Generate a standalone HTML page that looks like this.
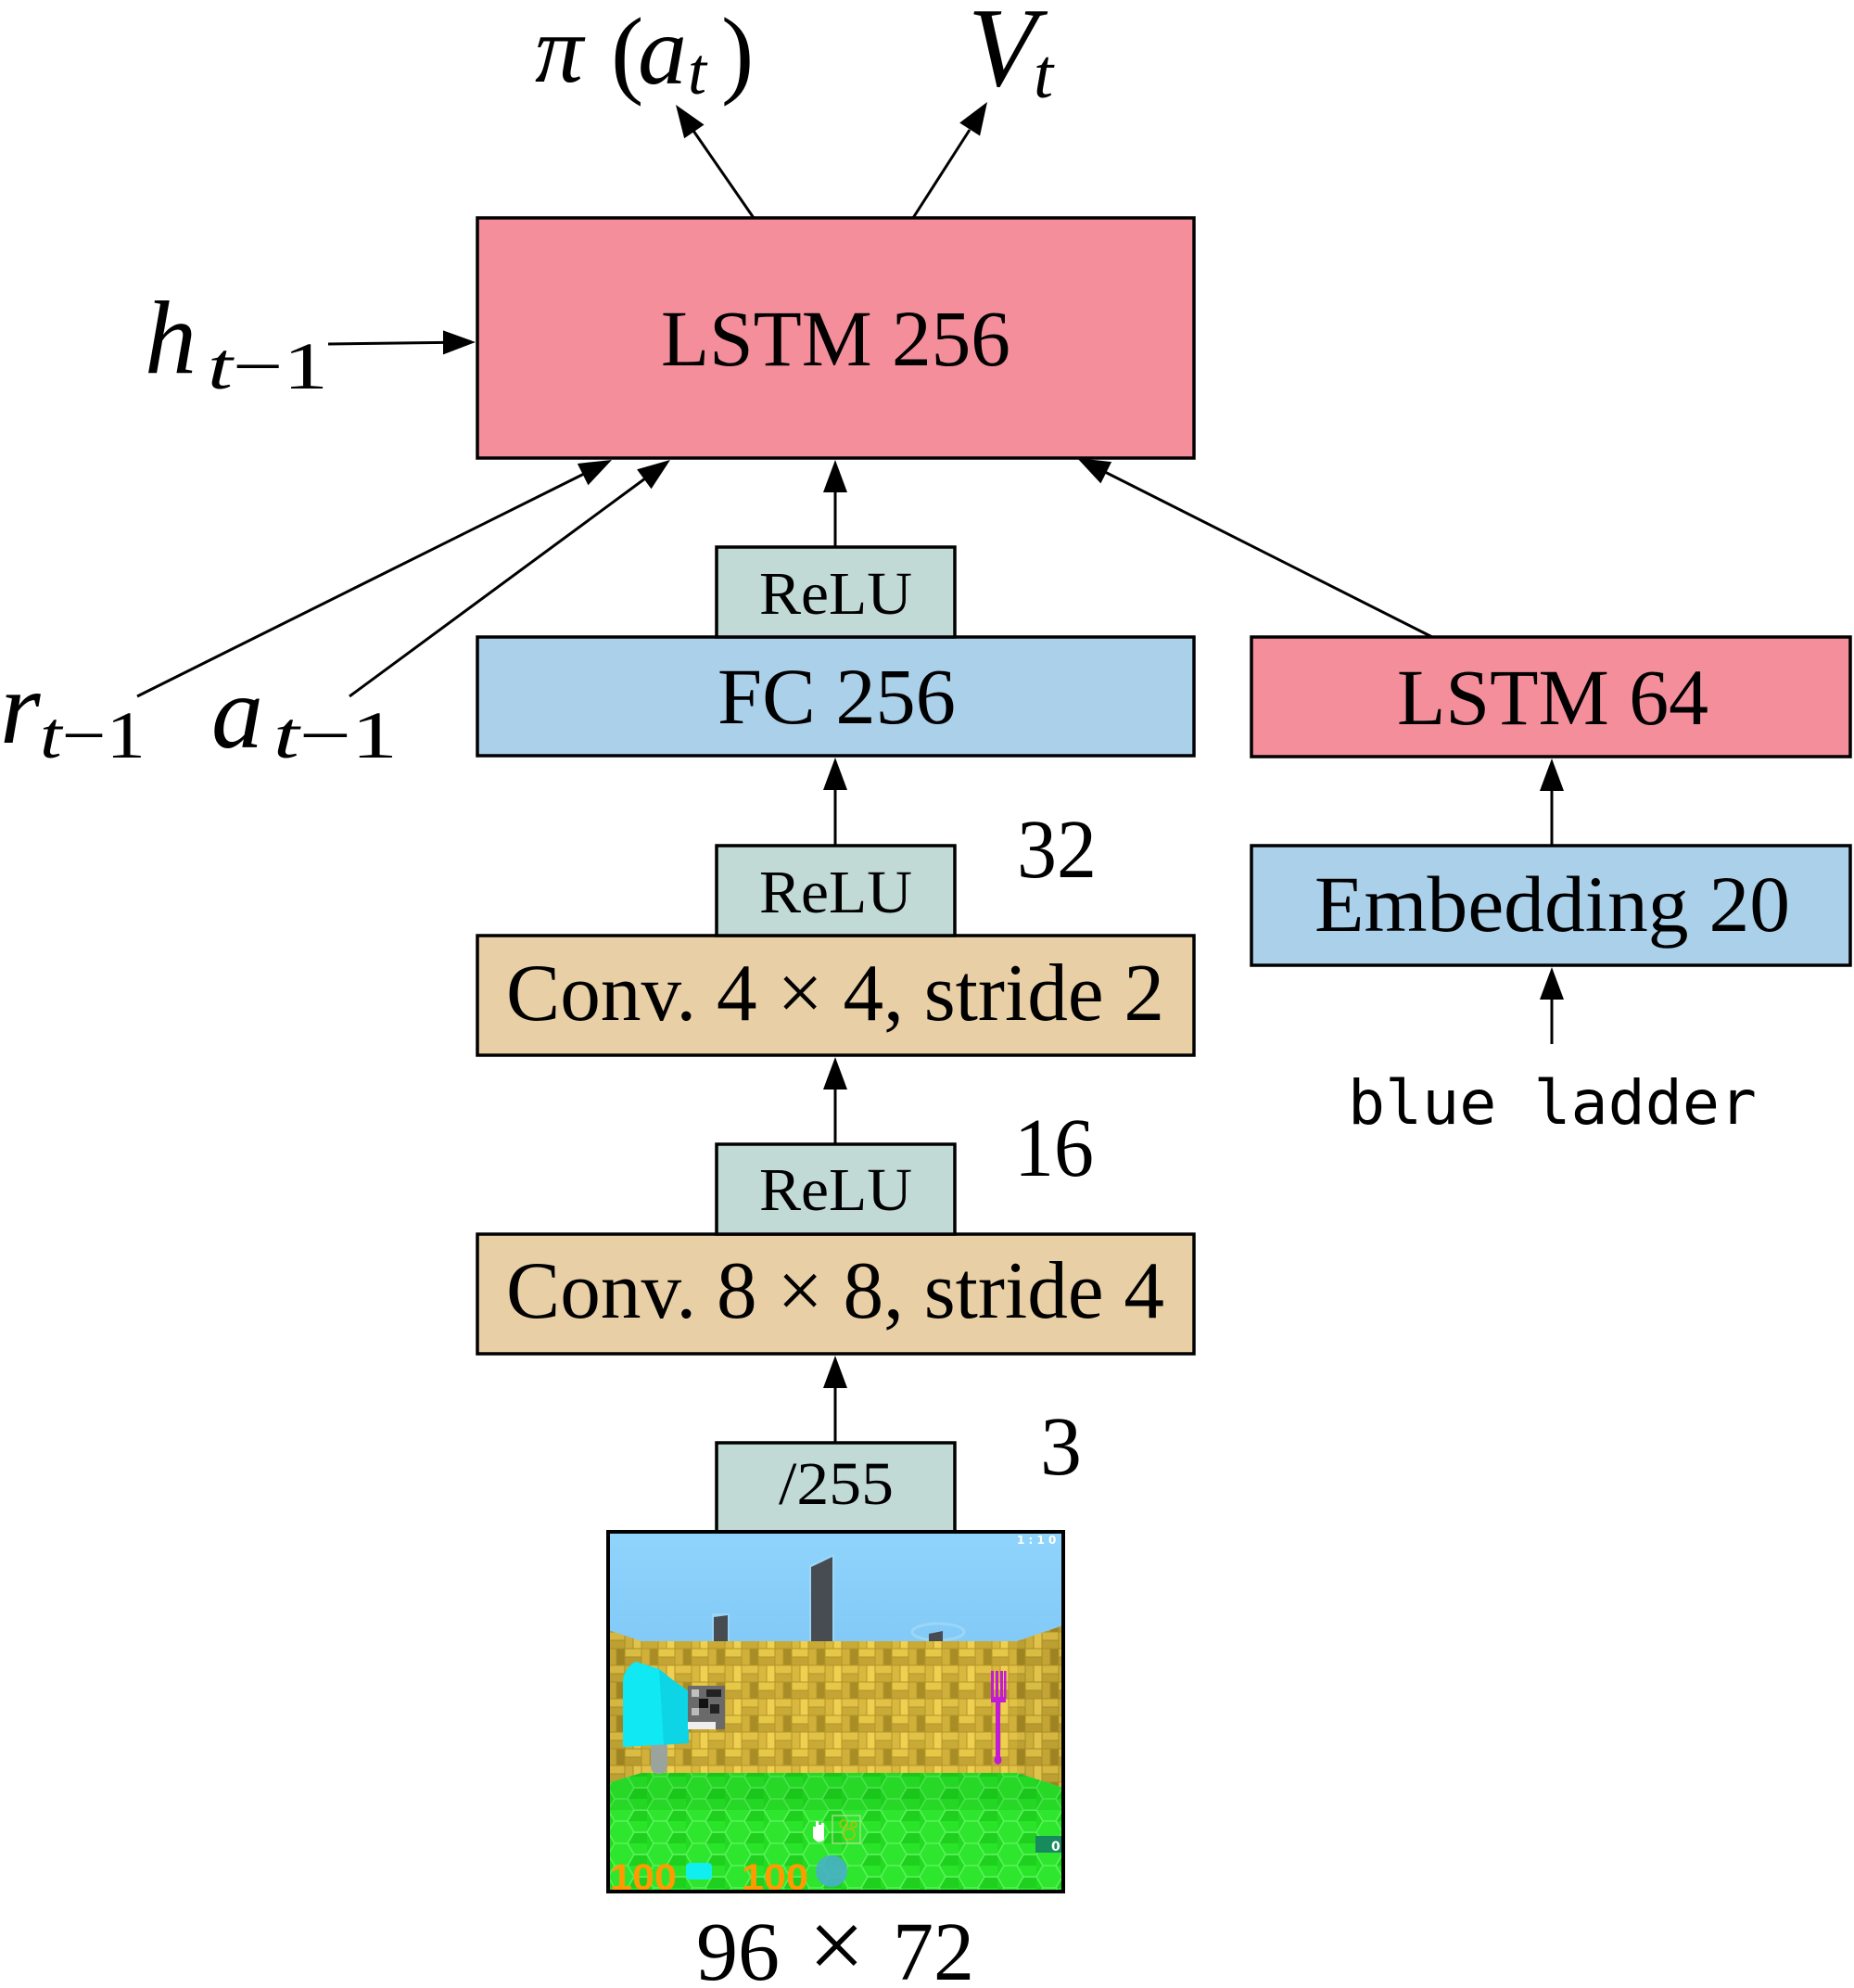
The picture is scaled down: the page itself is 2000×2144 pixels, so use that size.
<!DOCTYPE html>
<html>
<head>
<meta charset="utf-8">
<style>
html,body{margin:0;padding:0;background:#fff;width:2000px;height:2144px;overflow:hidden}
svg{display:block}
.s{font-family:"Liberation Serif","DejaVu Serif",serif;fill:#000}
.i{font-style:italic}
.m{font-family:"DejaVu Sans Mono","Liberation Mono",monospace;fill:#000}
</style>
</head>
<body>
<svg width="2000" height="2144" viewBox="0 0 2000 2144" xmlns="http://www.w3.org/2000/svg">
<defs>
  <linearGradient id="sky" x1="0" y1="0" x2="0" y2="1">
    <stop offset="0" stop-color="#8fd4fc"/>
    <stop offset="1" stop-color="#66b2ec"/>
  </linearGradient>
  <pattern id="brick" x="0" y="0" width="36" height="36" patternUnits="userSpaceOnUse">
    <rect width="36" height="36" fill="#b49628"/>
    <rect x="0.5" y="0.5" width="17" height="8" fill="#e2c246"/>
    <rect x="0.5" y="9.5" width="17" height="8" fill="#c9aa36"/>
    <rect x="18.5" y="0.5" width="8" height="17" fill="#d8b83e"/>
    <rect x="27.5" y="0.5" width="8" height="17" fill="#f0d050"/>
    <rect x="0.5" y="18.5" width="8" height="17" fill="#d0b03a"/>
    <rect x="9.5" y="18.5" width="8" height="17" fill="#a88c26"/>
    <rect x="18.5" y="18.5" width="17" height="8" fill="#e6c848"/>
    <rect x="18.5" y="27.5" width="17" height="8" fill="#c4a434"/>
  </pattern>
  <pattern id="hex" x="0" y="0" width="42" height="24" patternUnits="userSpaceOnUse">
    <rect width="42" height="24" fill="#22dc22"/>
    <polygon points="7,0 21,0 28,12 21,24 7,24 0,12" fill="#2ee62e" stroke="#5cf25c" stroke-width="1.5"/>
    <polygon points="28,12 42,12 49,24 42,36 28,36 21,24" fill="#1fd01f" stroke="#5cf25c" stroke-width="1.5"/>
    <polygon points="28,-12 42,-12 49,0 42,12 28,12 21,0" fill="#2ae42a" stroke="#5cf25c" stroke-width="1.5"/>
  </pattern>
  <clipPath id="imgclip"><rect x="0" y="0" width="491" height="388"/></clipPath>
</defs>

<!-- Boxes -->
<g stroke="#000" stroke-width="3.5">
  <rect x="515" y="235" width="773" height="259" fill="#f48e9b"/>
  <rect x="515" y="687" width="773" height="128" fill="#abd0ea"/>
  <rect x="515" y="1009" width="773" height="129" fill="#e8cfa5"/>
  <rect x="515" y="1331" width="773" height="129" fill="#e8cfa5"/>
  <rect x="773" y="590" width="257" height="97" fill="#c1dad6"/>
  <rect x="773" y="912" width="257" height="97" fill="#c1dad6"/>
  <rect x="773" y="1234" width="257" height="97" fill="#c1dad6"/>
  <rect x="773" y="1556" width="257" height="96" fill="#c1dad6"/>
  <rect x="1350" y="687" width="646" height="129" fill="#f48e9b"/>
  <rect x="1350" y="912" width="646" height="129" fill="#abd0ea"/>
</g>

<!-- Connectors -->
<g stroke="#000" stroke-width="3" fill="none">
  <line x1="901" y1="590" x2="901" y2="530"/>
  <line x1="901" y1="912" x2="901" y2="851"/>
  <line x1="901" y1="1234" x2="901" y2="1174"/>
  <line x1="901" y1="1556" x2="901" y2="1496"/>
  <line x1="1674" y1="912" x2="1674" y2="852"/>
  <line x1="1674" y1="1126" x2="1674" y2="1077"/>
  <line x1="354" y1="371" x2="479" y2="369.4"/>
  <line x1="148" y1="751" x2="630" y2="511"/>
  <line x1="377" y1="751" x2="696" y2="516"/>
  <line x1="813" y1="235" x2="748" y2="141"/>
  <line x1="985" y1="235" x2="1046" y2="140"/>
  <line x1="1545" y1="687" x2="1192" y2="509"/>
</g>
<g fill="#000">
  <polygon points="901,496 888,531 914,531"/>
  <polygon points="901,817 888,852 914,852"/>
  <polygon points="901,1140 888,1175 914,1175"/>
  <polygon points="901,1462 888,1497 914,1497"/>
  <polygon points="1674,818 1661,853 1687,853"/>
  <polygon points="1674,1043 1661,1078 1687,1078"/>
  <polygon points="513,369 478,356.4 478,382.4"/>
  <polygon points="660,496 634.47,523.24 622.87,499.96"/>
  <polygon points="723,496 702.53,527.23 687.11,506.31"/>
  <polygon points="729,113 759.56,134.46 738.14,149.20"/>
  <polygon points="1065,110 1057.08,146.49 1035.18,132.47"/>
  <polygon points="1162,494 1199.11,498.14 1187.41,521.36"/>
</g>

<!-- Box labels -->
<text class="s" x="713" y="394" font-size="86" textLength="377" lengthAdjust="spacingAndGlyphs">LSTM 256</text>
<text class="s" x="819" y="662" font-size="66" textLength="165" lengthAdjust="spacingAndGlyphs">ReLU</text>
<text class="s" x="774" y="780" font-size="86" textLength="257" lengthAdjust="spacingAndGlyphs">FC 256</text>
<text class="s" x="819" y="984" font-size="66" textLength="165" lengthAdjust="spacingAndGlyphs">ReLU</text>
<text class="s" x="546" y="1100" font-size="88" textLength="710" lengthAdjust="spacingAndGlyphs">Conv. 4 × 4, stride 2</text>
<text class="s" x="819" y="1305" font-size="66" textLength="165" lengthAdjust="spacingAndGlyphs">ReLU</text>
<text class="s" x="546" y="1421" font-size="88" textLength="710" lengthAdjust="spacingAndGlyphs">Conv. 8 × 8, stride 4</text>
<text class="s" x="840" y="1622" font-size="66" textLength="124" lengthAdjust="spacingAndGlyphs">/255</text>
<text class="s" x="1507" y="781" font-size="86" textLength="336" lengthAdjust="spacingAndGlyphs">LSTM 64</text>
<text class="s" x="1418" y="1004" font-size="86" textLength="513" lengthAdjust="spacingAndGlyphs">Embedding 20</text>
<text class="m" x="1454" y="1212" font-size="66" textLength="441" lengthAdjust="spacingAndGlyphs">blue ladder</text>

<!-- Channel counts -->
<text class="s" x="1097" y="946" font-size="90" textLength="86" lengthAdjust="spacingAndGlyphs">32</text>
<text class="s" x="1094" y="1268" font-size="90" textLength="86" lengthAdjust="spacingAndGlyphs">16</text>
<text class="s" x="1122" y="1590" font-size="90">3</text>

<!-- 96 x 72 -->
<text class="s" x="751" y="2135" font-size="90" textLength="90" lengthAdjust="spacingAndGlyphs">96</text>
<text class="s" x="872" y="2134" font-size="108">×</text>
<text class="s" x="963" y="2135" font-size="90" textLength="88" lengthAdjust="spacingAndGlyphs">72</text>

<!-- Math labels -->
<text class="s i" x="156" y="402" font-size="112">h</text>
<text class="s" x="224" y="419" font-size="72" textLength="130" lengthAdjust="spacingAndGlyphs"><tspan class="i">t</tspan>−1</text>

<text class="s i" x="0" y="801" font-size="112">r</text>
<text class="s" x="43" y="817" font-size="72" textLength="114" lengthAdjust="spacingAndGlyphs"><tspan class="i">t</tspan>−1</text>

<text class="s i" x="228" y="806" font-size="112">a</text>
<text class="s" x="295" y="817" font-size="72" textLength="134" lengthAdjust="spacingAndGlyphs"><tspan class="i">t</tspan>−1</text>

<text class="s i" x="577" y="88" font-size="104">π</text>
<text class="s" x="659" y="92" font-size="106">(</text>
<text class="s i" x="688" y="90" font-size="106">a</text>
<text class="s i" x="742" y="101" font-size="72">t</text>
<text class="s" x="778" y="92" font-size="106">)</text>

<text class="s i" x="1044" y="92" font-size="122">V</text>
<text class="s i" x="1115" y="105" font-size="76">t</text>

<!-- Game screenshot -->
<g transform="translate(656,1652)">
  <g clip-path="url(#imgclip)">
    <rect x="0" y="0" width="491" height="388" fill="url(#sky)"/>
    <!-- pillars -->
    <rect x="112" y="88" width="19" height="34" fill="#a8dcf8" opacity="0.6"/>
    <polygon points="114,92 129,90 129,120 114,120" fill="#474c52"/>
    <polygon points="217,36 244,24 244,120 217,120" fill="#a8dcf8" opacity="0.6"/>
    <polygon points="219,38 242,27 242,120 219,120" fill="#474c52"/>
    <ellipse cx="356" cy="108" rx="28" ry="9" fill="none" stroke="#9ad6f6" stroke-width="3"/>
    <polygon points="346,110 361,107 361,120 346,120" fill="#474c52"/>
    <!-- walls -->
    <polygon points="0,106 36,118 441,118 491,101 491,276 441,260 36,260 0,271" fill="url(#brick)"/>
    <polygon points="0,106 36,118 36,260 0,271" fill="#000" opacity="0.06"/>
    <polygon points="441,118 491,101 491,276 441,260" fill="#000" opacity="0.06"/>
    <!-- floor -->
    <polygon points="0,271 36,260 441,260 491,276 491,388 0,388" fill="url(#hex)"/>
    <polygon points="0,271 36,260 441,260 491,276 491,300 0,300" fill="#0a9a0a" opacity="0.18"/>
    <!-- cyan object -->
    <rect x="46" y="225" width="18" height="36" rx="8" fill="#9aa49c"/>
    <path d="M16,160 Q18,146 30,140 L55,148 L70,160 L87,172 L87,228 L16,232 Z" fill="#10e8f4"/>
    <path d="M55,148 L70,160 L87,172 L87,228 L60,230 Z" fill="#0cc8da" opacity="0.6"/>
    <!-- pixel picture -->
    <rect x="86" y="166" width="40" height="47" fill="#6a6a6a"/>
    <rect x="90" y="170" width="8" height="8" fill="#c0c0c0"/>
    <rect x="106" y="170" width="16" height="8" fill="#222"/>
    <rect x="98" y="180" width="10" height="10" fill="#111"/>
    <rect x="110" y="186" width="10" height="10" fill="#222"/>
    <rect x="90" y="190" width="8" height="8" fill="#bbb"/>
    <rect x="86" y="205" width="30" height="8" fill="#eee"/>
    <!-- fork -->
    <g fill="#c21ad6">
      <rect x="413" y="150" width="3" height="30"/>
      <rect x="418" y="150" width="3" height="30"/>
      <rect x="423" y="150" width="3" height="30"/>
      <rect x="427" y="150" width="2.5" height="30"/>
      <rect x="413" y="178" width="16" height="6"/>
      <rect x="418" y="183" width="5" height="62"/>
      <ellipse cx="420.5" cy="246" rx="4" ry="5"/>
    </g>
    <!-- HUD -->
    <text x="441" y="13" font-family="DejaVu Sans, sans-serif" font-size="12" font-weight="bold" fill="#fff">1 : 1 0</text>
    <rect x="242" y="306" width="30" height="30" fill="none" stroke="#b8e090" stroke-width="1.2"/>
    <circle cx="254" cy="315" r="4" fill="none" stroke="#e0b000" stroke-width="1.2"/>
    <circle cx="260" cy="326" r="6" fill="none" stroke="#e0b000" stroke-width="1.2"/>
    <circle cx="265" cy="316" r="3" fill="none" stroke="#e0b000" stroke-width="1.2"/>
    <path d="M221,330 L221,318 L224,318 L224,312 L227,312 L227,316 L230,316 L230,314 L233,314 L233,332 Q227,338 221,330 Z" fill="#fff"/>
    <rect x="461" y="328" width="30" height="18" fill="#178a5e"/>
    <text x="478" y="344" font-family="DejaVu Sans, sans-serif" font-size="14" font-weight="bold" fill="#fff">0</text>
    <text x="2" y="386" font-family="Liberation Sans, sans-serif" font-size="40" font-weight="bold" fill="#ff9a00" textLength="72" lengthAdjust="spacingAndGlyphs">100</text>
    <rect x="84" y="357" width="28" height="18" rx="4" fill="#10eef0"/>
    <text x="144" y="386" font-family="Liberation Sans, sans-serif" font-size="40" font-weight="bold" fill="#ff9a00" textLength="72" lengthAdjust="spacingAndGlyphs">100</text>
    <circle cx="241" cy="366" r="17" fill="#48b0c8" opacity="0.9"/>
  </g>
  <rect x="0" y="0" width="491" height="388" fill="none" stroke="#000" stroke-width="4"/>
</g>
</svg>
</body>
</html>
